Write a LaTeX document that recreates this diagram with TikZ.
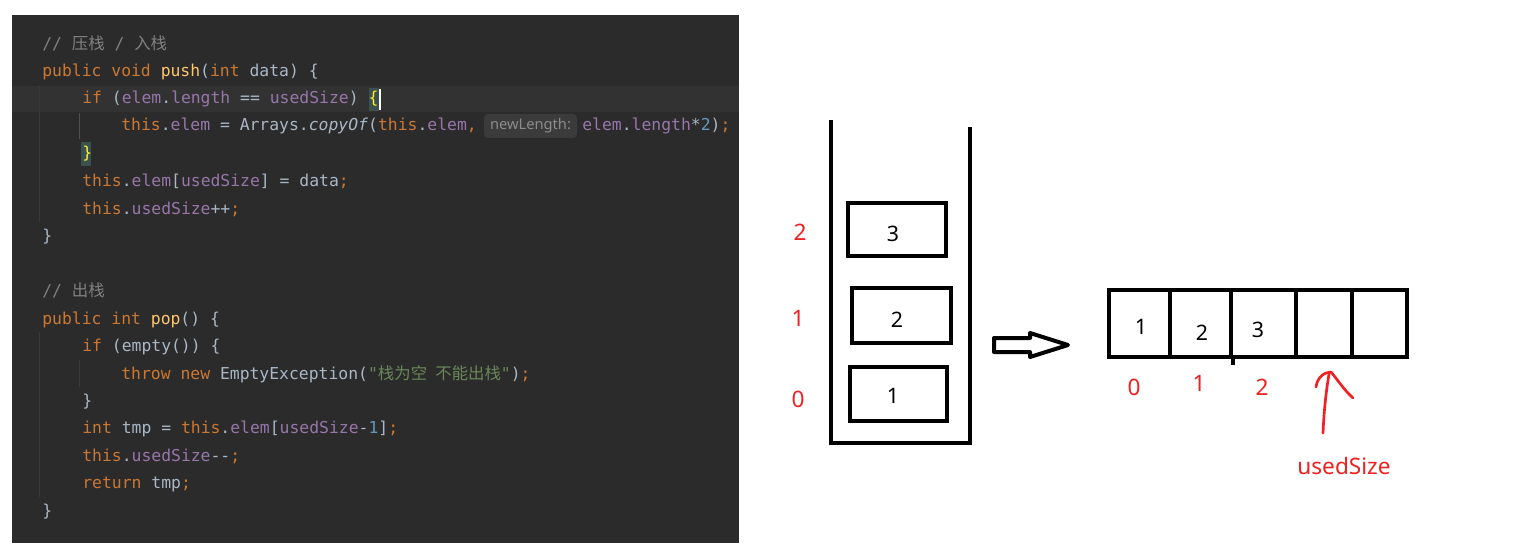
\documentclass[tikz,border=0pt]{standalone}
\usepackage{fontspec}
\setmonofont{DejaVu Sans Mono}
\newfontfamily\cjkfont{Noto Sans CJK SC}
\newfontfamily\labfont{Noto Sans}
\definecolor{panel}{HTML}{2B2B2B}
\definecolor{curline}{HTML}{323232}
\definecolor{ctx}{HTML}{A9B7C6}
\definecolor{ckwc}{HTML}{CC7832}
\definecolor{cfdc}{HTML}{9876AA}
\definecolor{cfnc}{HTML}{FFC66D}
\definecolor{cstc}{HTML}{6A8759}
\definecolor{cnumc}{HTML}{6897BB}
\definecolor{ccmc}{HTML}{808080}
\definecolor{cbrc}{HTML}{FFEF28}
\definecolor{cbrbg}{HTML}{3B514D}
\definecolor{guide}{HTML}{393939}
\definecolor{guideact}{HTML}{505050}
\definecolor{inlaybg}{HTML}{3B3B3B}
\definecolor{inlaytx}{HTML}{8C8C8C}
\definecolor{hand}{HTML}{EE2222}
\newcommand\ckw[1]{\textcolor{ckwc}{#1}}
\newcommand\cfd[1]{\textcolor{cfdc}{#1}}
\newcommand\cfn[1]{\textcolor{cfnc}{#1}}
\newcommand\cst[1]{\textcolor{cstc}{#1}}
\newcommand\cnum[1]{\textcolor{cnumc}{#1}}
\newcommand\ccm[1]{\textcolor{ccmc}{#1}}
\begin{document}
\begin{tikzpicture}[x=0.75pt,y=-0.75pt,
  code/.style={anchor=base west,inner sep=0pt,text=ctx,font=\ttfamily\fontsize{12.3}{14}\selectfont},
  redlab/.style={text=hand,inner sep=0pt,font=\labfont\fontsize{17}{20}\selectfont},
  blklab/.style={text=black,inner sep=0pt,font=\labfont\fontsize{16}{19}\selectfont},
  thick box/.style={draw=black,line width=3pt,inner sep=0pt},
  cell/.style={draw=black,line width=3pt,inner sep=0pt,minimum height={67*0.75pt}}]
\useasboundingbox (0,0) rectangle (1515,556);
\fill[white] (0,0) rectangle (1515,556);
% code panel
\fill[panel] (12,15) rectangle (739,543);
\fill[curline] (12,86) rectangle (739,112);
% indent guides
\draw[guide,line width=0.75pt] (39,86) -- (39,222);
\draw[guideact,line width=0.75pt] (79,113) -- (79,139);
\draw[guide,line width=0.75pt] (39,332) -- (39,497);
\draw[guide,line width=0.75pt] (79,360) -- (79,387);
% brace highlights
\fill[cbrbg] (369,88) rectangle (379,111);
\fill[cbrbg] (81,142) rectangle (91,166);
% code lines
\node[code] (l1) at (42,50) {\ccm{// {\cjkfont 压栈} / {\cjkfont 入栈}}};
\node[code] (l2) at (42,77) {\ckw{public void }\cfn{push}(\ckw{int} data) \{};
\node[code] (l3) at (82,104) {\ckw{if} (\cfd{elem}.\cfd{length} == \cfd{usedSize}) \textcolor{cbrc}{\{}};
\draw[white,line width=1pt] (380,89) -- (380,110);
\node[code] (l4a) at (121,131) {\ckw{this}.\cfd{elem} = Arrays.\textit{copyOf}(\ckw{this}.\cfd{elem}\ckw{,}};
\node[fill=inlaybg,rounded corners=3pt,minimum width={93*0.75pt},minimum height={24*0.75pt},inner sep=0pt,text=inlaytx,font=\labfont\fontsize{11}{13}\selectfont] (hint) at (530.5,126) {newLength:};
\node[code] (l4b) at (582,131) {\cfd{elem}.\cfd{length}*\cnum{2})\ckw{;}};
\node[code] (l5) at (82,158) {\textcolor{cbrc}{\}}};
\node[code] (l6) at (82,186) {\ckw{this}.\cfd{elem}[\cfd{usedSize}] = data\ckw{;}};
\node[code] (l7) at (82,214) {\ckw{this}.\cfd{usedSize}++\ckw{;}};
\node[code] (l8) at (42,241) {\}};
\node[code] (l10) at (42,296) {\ccm{// {\cjkfont 出栈}}};
\node[code] (l11) at (42,324) {\ckw{public int }\cfn{pop}() \{};
\node[code] (l12) at (82,351) {\ckw{if} (empty()) \{};
\node[code] (l13) at (121,379) {\ckw{throw new} EmptyException(\cst{"{\cjkfont 栈为空\hspace{0.5em}不能出栈}"})\ckw{;}};
\node[code] (l14) at (82,406) {\}};
\node[code] (l15) at (82,433) {\ckw{int} tmp = \ckw{this}.\cfd{elem}[\cfd{usedSize}-\cnum{1}]\ckw{;}};
\node[code] (l16) at (82,461) {\ckw{this}.\cfd{usedSize}{-}{-}\ckw{;}};
\node[code] (l17) at (82,488) {\ckw{return} tmp\ckw{;}};
\node[code] (l18) at (42,516) {\}};
% stack container
\draw[line width=3pt,line join=miter] (831,120) -- (831,443) -- (970,443) -- (970,127);
\node[thick box,minimum width={98*0.75pt},minimum height={53*0.75pt}] (b3) at (897,229.5) {};
\node[thick box,minimum width={99*0.75pt},minimum height={55*0.75pt}] (b2) at (901.5,315.5) {};
\node[thick box,minimum width={97*0.75pt},minimum height={54*0.75pt}] (b1) at (898.5,394) {};
\node[blklab] (n3) at (893,234) {3};
\node[blklab] (n2) at (897,320) {2};
\node[blklab] (n1) at (893,396) {1};
\node[redlab] (s2) at (800,232) {2};
\node[redlab] (s1) at (798,318) {1};
\node[redlab] (s0) at (798,399) {0};
% hollow arrow
\draw[line width=3pt,line join=round] (994,338) -- (1030,338) -- (1030,333) -- (1068,345) -- (1030,357) -- (1030,352) -- (994,352) -- cycle;
% array
\node[cell,minimum width={61*0.75pt}] (c0) at (1139.5,323.5) {};
\node[cell,minimum width={61*0.75pt}] (c1) at (1200.5,323.5) {};
\node[cell,minimum width={65*0.75pt}] (c2) at (1263.5,323.5) {};
\node[cell,minimum width={56*0.75pt}] (c3) at (1324,323.5) {};
\node[cell,minimum width={55*0.75pt}] (c4) at (1379.5,323.5) {};
\draw[line width=2.5pt] (c1.south east) -- ++(0,6);
\node[blklab] (a1) at (1141,327) {1};
\node[blklab] (a2) at (1202,333) {2};
\node[blklab] (a3) at (1258,330) {3};
\node[redlab] (i0) at (1134,387) {0};
\node[redlab] (i1) at (1199,383) {1};
\node[redlab] (i2) at (1262,387) {2};
% red hand arrow
\draw[hand,line width=2pt,line cap=round] (1323,433) .. controls (1324,410) and (1326,392) .. (1329,374);
\draw[hand,line width=2pt,line cap=round,line join=round] (1316,387) .. controls (1317,378) and (1324,372) .. (1331,372) .. controls (1337,379) and (1344,390) .. (1353,398);
\node[text=hand,inner sep=0pt,font=\labfont\fontsize{17}{20}\selectfont] (us) at (1344,466) {usedSize};
\end{tikzpicture}
\end{document}
